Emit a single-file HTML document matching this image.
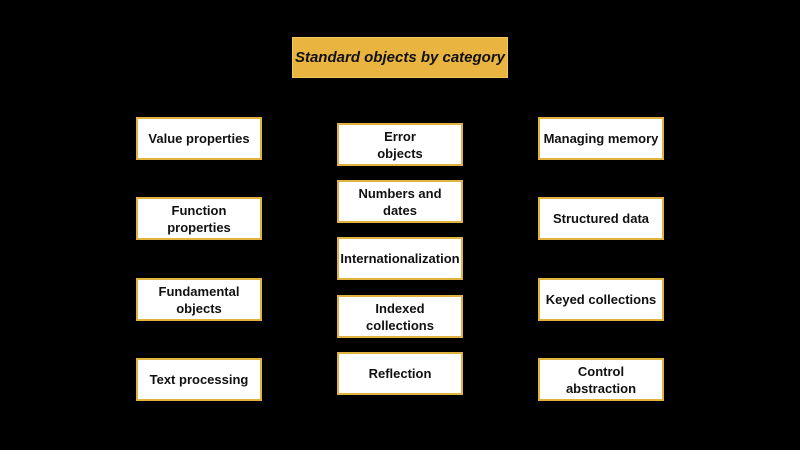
<!DOCTYPE html>
<html><head><style>
body{margin:0;width:800px;height:450px;background:#000;position:relative;overflow:hidden;font-family:"Liberation Sans",Arial,sans-serif;}
.b{position:absolute;width:122px;height:39px;background:#fff;border:2px solid #e2b23f;display:flex;align-items:center;justify-content:center;text-align:center;font-size:13px;font-weight:bold;color:#111;line-height:17px;}
.t{position:absolute;left:292px;top:37px;width:216px;height:41px;background:#e9b440;border:1px solid #f0c860;box-sizing:border-box;display:flex;align-items:center;justify-content:center;font-size:15px;font-style:italic;font-weight:bold;color:#111;}
</style></head><body>
<div class="t">Standard objects by category</div>
<div class="b" style="left:136px;top:117px">Value properties</div>
<div class="b" style="left:136px;top:197px">Function<br>properties</div>
<div class="b" style="left:136px;top:278px">Fundamental<br>objects</div>
<div class="b" style="left:136px;top:358px">Text processing</div>
<div class="b" style="left:337px;top:123px">Error<br>objects</div>
<div class="b" style="left:337px;top:180px">Numbers and<br>dates</div>
<div class="b" style="left:337px;top:237px">Internationalization</div>
<div class="b" style="left:337px;top:295px">Indexed<br>collections</div>
<div class="b" style="left:337px;top:352px">Reflection</div>
<div class="b" style="left:538px;top:117px">Managing memory</div>
<div class="b" style="left:538px;top:197px">Structured data</div>
<div class="b" style="left:538px;top:278px">Keyed collections</div>
<div class="b" style="left:538px;top:358px">Control<br>abstraction</div>
</body></html>
